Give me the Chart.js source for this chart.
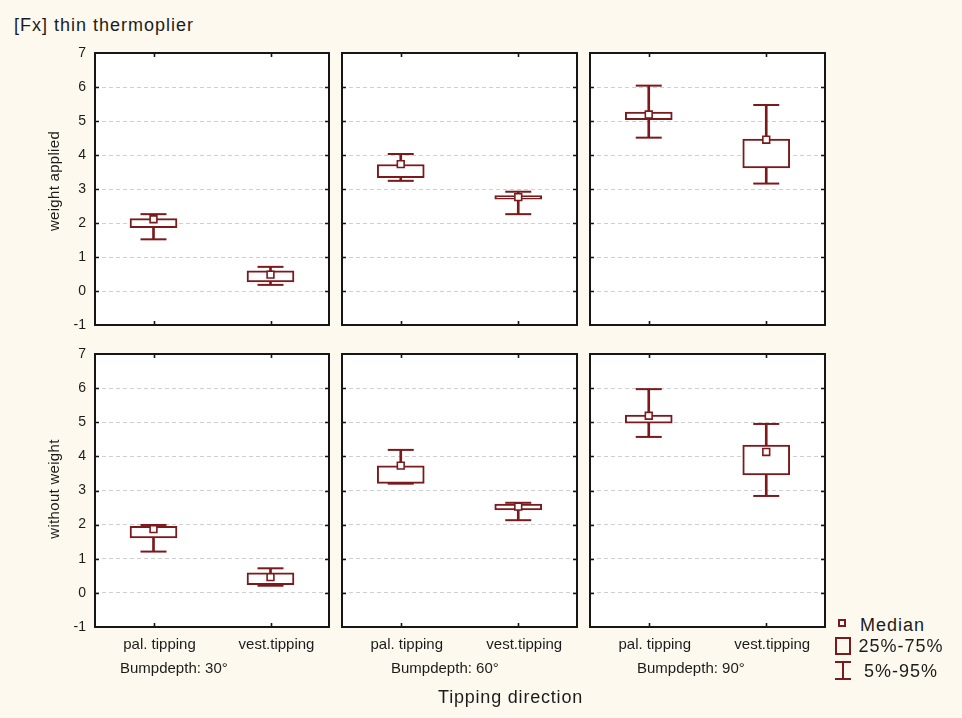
<!DOCTYPE html>
<html>
<head>
<meta charset="utf-8">
<script src="https://cdn.jsdelivr.net/npm/chart.js@4/dist/chart.umd.min.js"></script>
<style>
html,body{margin:0;padding:0;background:#fdf9ee;}
#wrap{position:relative;width:962px;height:718px;overflow:hidden;font-family:'Liberation Sans',Arial,sans-serif;color:#1c1c1c;background:#fdf9ee;}
canvas{position:absolute;}
.t{position:absolute;white-space:nowrap;line-height:1;}
.sym{position:absolute;box-sizing:border-box;}
</style>
</head>
<body>
<div id="wrap"></div>
<script>
// ---------- data ----------
const chartTitle = '[Fx] thin thermoplier';
const categories = ['pal. tipping', 'vest.tipping'];
const bumpDepths = ['Bumpdepth: 30°', 'Bumpdepth: 60°', 'Bumpdepth: 90°'];
const rowTitles = ['weight applied', 'without weight'];
const xAxisTitle = 'Tipping direction';
const legendLabels = ['Median', '25%-75%', '5%-95%'];
const yMin = -1, yMax = 7, yStep = 1;

// weight applied: [bump depth][pal, vest]
const waP5  = [[1.52, 0.18], [3.24, 2.26], [4.51, 3.16]];
const waQ1  = [[1.86, 0.27], [3.33, 2.70], [5.04, 3.62]];
const waMed = [[2.11, 0.48], [3.73, 2.76], [5.19, 4.45]];
const waQ3  = [[2.13, 0.59], [3.72, 2.81], [5.26, 4.47]];
const waP95 = [[2.26, 0.71], [4.03, 2.92], [6.04, 5.47]];

// without weight: [bump depth][pal, vest]
const woP5  = [[1.21, 0.21], [3.20, 2.13], [4.57, 2.84]];
const woQ1  = [[1.61, 0.24], [3.21, 2.43], [4.97, 3.46]];
const woMed = [[1.87, 0.46], [3.73, 2.53], [5.19, 4.13]];
const woQ3  = [[1.95, 0.59], [3.72, 2.60], [5.21, 4.33]];
const woP95 = [[1.99, 0.72], [4.19, 2.64], [5.97, 4.95]];

const rowsP5 = [waP5, woP5], rowsQ1 = [waQ1, woQ1], rowsMed = [waMed, woMed], rowsQ3 = [waQ3, woQ3], rowsP95 = [waP95, woP95];

// ---------- layout / style ----------
const RED = '#7a1a1c';
const colLeft = [95, 342, 590], colWidth = [234, 235, 235];
const rowTop = [53, 354], rowHeight = [272, 273];
Chart.defaults.font.family = "'Liberation Sans', Arial, sans-serif";
Chart.defaults.color = '#1c1c1c';

const wrap = document.getElementById('wrap');

const framePlugin = {
  id: 'frame',
  beforeDraw(chart) {
    const {ctx, chartArea: a} = chart;
    ctx.save();
    ctx.fillStyle = '#ffffff';
    ctx.fillRect(a.left, a.top, a.right - a.left, a.bottom - a.top);
    ctx.restore();
  },
  afterDraw(chart) {
    const {ctx, chartArea: a} = chart;
    const x = chart.scales.x, y = chart.scales.y;
    ctx.save();
    ctx.strokeStyle = '#161616';
    ctx.lineWidth = 1.6;
    ctx.beginPath();
    y.ticks.forEach((t, i) => {
      if (t.value <= yMin || t.value >= yMax) return;
      const py = Math.round(y.getPixelForTick(i)) + 0.5;
      ctx.moveTo(a.left, py); ctx.lineTo(a.left + 4, py);
      ctx.moveTo(a.right, py); ctx.lineTo(a.right - 4, py);
    });
    x.ticks.forEach((t, i) => {
      const px = Math.round(x.getPixelForTick(i)) + 0.5;
      ctx.moveTo(px, a.top); ctx.lineTo(px, a.top + 4);
      ctx.moveTo(px, a.bottom); ctx.lineTo(px, a.bottom - 4);
    });
    ctx.stroke();
    ctx.lineWidth = 2;
    ctx.strokeRect(a.left, a.top, a.right - a.left, a.bottom - a.top);
    ctx.restore();
  }
};

function panel(r, c) {
  const padL = c === 0 ? 40 : 12, padR = 12, padT = 12, padB = r === 1 ? 40 : 12;
  const W = padL + colWidth[c] + padR, H = padT + rowHeight[r] + padB;
  const cv = document.createElement('canvas');
  cv.width = W; cv.height = H;
  cv.style.width = W + 'px'; cv.style.height = H + 'px';
  cv.style.left = (colLeft[c] - padL) + 'px';
  cv.style.top = (rowTop[r] - padT) + 'px';
  wrap.appendChild(cv);

  const P5 = rowsP5[r][c], Q1 = rowsQ1[r][c], MED = rowsMed[r][c], Q3 = rowsQ3[r][c], P95 = rowsP95[r][c];

  new Chart(cv, {
    type: 'bar',
    data: {
      labels: categories,
      datasets: [
        { type: 'bar', label: 'whisker', data: categories.map((_, i) => [P5[i], P95[i]]),
          backgroundColor: RED, borderWidth: 0, barThickness: 2, grouped: false, order: 4 },
        { type: 'line', label: '95%', data: P95, showLine: false, pointStyle: 'line',
          pointRadius: 13, pointBorderWidth: 2, pointBorderColor: RED, pointBackgroundColor: RED, order: 3 },
        { type: 'line', label: '5%', data: P5, showLine: false, pointStyle: 'line',
          pointRadius: 13, pointBorderWidth: 2, pointBorderColor: RED, pointBackgroundColor: RED, order: 3 },
        { type: 'bar', label: '25%-75%', data: categories.map((_, i) => [Q1[i], Q3[i]]),
          backgroundColor: '#ffffff', borderColor: RED, borderWidth: 2, borderSkipped: false,
          barThickness: 47, grouped: false, order: 2 },
        { type: 'line', label: 'Median', data: MED, showLine: false, pointStyle: 'rect',
          pointRadius: 4.8, pointBorderWidth: 1.6, pointBorderColor: RED, pointBackgroundColor: '#ffffff', order: 1 }
      ]
    },
    options: {
      responsive: false,
      animation: false,
      events: [],
      layout: { autoPadding: false, padding: { left: 0, right: padR, top: padT, bottom: 0 } },
      plugins: { legend: { display: false }, tooltip: { enabled: false }, title: { display: false } },
      scales: {
        x: {
          type: 'category', offset: true,
          grid: { display: false, drawTicks: false },
          border: { display: false },
          ticks: { display: r === 1, font: { size: 15 }, color: '#1c1c1c', padding: 9, labelOffset: 6, maxRotation: 0, autoSkip: false },
          afterFit: s => { s.height = padB; s.paddingLeft = 0; s.paddingRight = 0; s.paddingTop = 0; s.paddingBottom = 0; }
        },
        y: {
          type: 'linear', min: yMin, max: yMax,
          grid: { color: '#cfcfcf', lineWidth: 1, drawTicks: false },
          border: { display: false, dash: [4, 3] },
          ticks: { display: c === 0, stepSize: yStep, font: { size: 14 }, color: '#1c1c1c', padding: 9 },
          afterFit: s => { s.width = padL; s.paddingLeft = 0; s.paddingRight = 0; s.paddingTop = 0; s.paddingBottom = 0; }
        }
      }
    },
    plugins: [framePlugin]
  });
}

for (let r = 0; r < 2; r++) for (let c = 0; c < 3; c++) panel(r, c);

// ---------- text ----------
function text(str, left, top, size, extra) {
  const d = document.createElement('div');
  d.className = 't';
  d.textContent = str;
  d.style.left = left + 'px';
  d.style.top = top + 'px';
  d.style.fontSize = size + 'px';
  if (extra) Object.assign(d.style, extra);
  wrap.appendChild(d);
  return d;
}
text(chartTitle, 14, 15.8, 18, { letterSpacing: '1px' });
const rowCenters = [181, 489];
rowTitles.forEach((s, i) => {
  text(s, 54 - 100, rowCenters[i] - 9, 15, { width: '200px', textAlign: 'center', lineHeight: '18px', transform: 'rotate(-90deg)', letterSpacing: '0.3px' });
});
const bumpLeft = [120, 391, 637];
bumpDepths.forEach((s, i) => text(s, bumpLeft[i], 659.6, 15));
text(xAxisTitle, 438, 688.1, 18, { letterSpacing: '0.8px' });

// legend
const legTop = [615.5, 637.1, 661.5], legLeft = [860, 858.5, 864];
legendLabels.forEach((s, i) => text(s, legLeft[i], legTop[i], 18, { letterSpacing: '1px' }));
function sym(left, top, w, h, style) {
  const d = document.createElement('div');
  d.className = 'sym';
  Object.assign(d.style, { left: left + 'px', top: top + 'px', width: w + 'px', height: h + 'px' }, style);
  wrap.appendChild(d);
}
sym(838, 619, 8, 8, { border: '2px solid ' + RED, background: '#fff' });
sym(835, 637, 16, 18, { border: '2px solid ' + RED });
sym(835, 661, 16, 2, { background: RED });
sym(842, 661, 2, 19, { background: RED });
sym(835, 678, 16, 2, { background: RED });
</script>
</body>
</html>
